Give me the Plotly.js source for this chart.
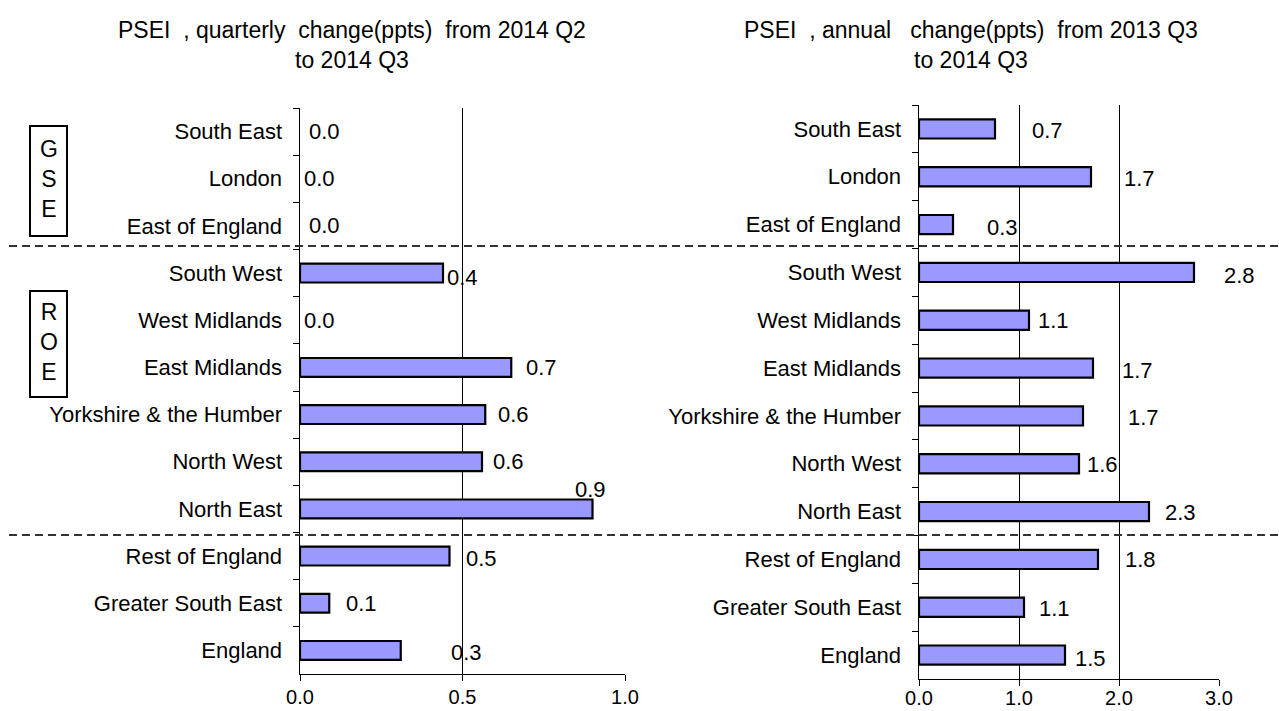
<!DOCTYPE html>
<html>
<head>
<meta charset="utf-8">
<script src="https://cdn.plot.ly/plotly-3.0.1.min.js"></script>
<style>html,body{margin:0;padding:0;background:#fff;}#chart{width:1279px;height:711px;}</style>
</head>
<body>
<div id="chart"></div>
<script>
// ---- data ----
const regions = ["South East","London","East of England","South West","West Midlands","East Midlands",
  "Yorkshire & the Humber","North West","North East","Rest of England","Greater South East","England"];
const quarterlyValues = [0.0, 0.0, 0.0, 0.44, 0.0, 0.65, 0.57, 0.56, 0.90, 0.46, 0.09, 0.31];
const quarterlyLabels = ["0.0","0.0","0.0","0.4","0.0","0.7","0.6","0.6","0.9","0.5","0.1","0.3"];
const annualValues = [0.76, 1.72, 0.34, 2.75, 1.10, 1.74, 1.64, 1.60, 2.30, 1.79, 1.05, 1.46];
const annualLabels = ["0.7","1.7","0.3","2.8","1.1","1.7","1.7","1.6","2.3","1.8","1.1","1.5"];
const quarterlyTicks = [0, 0.5, 1.0];
const quarterlyTickText = ["0.0","0.5","1.0"];
const annualTicks = [0, 1, 2, 3];
const annualTickText = ["0.0","1.0","2.0","3.0"];

// label placement tweaks (pixels), styling only
const qShiftX = [7, 2, 7, 2, 2, 13, 11, 9, -20, 14, 15, 48];
const qShiftY = [0, 0, 0, -4, 0, 0, 0, 0, 19, -2, 0, -2];
const aShiftX = [35, 31, 32, 28, 7, 27, 43, 6, 14, 25, 13, 8];
const aShiftY = [-2, -2, -3, -3, 0, -2, -2, -1, -1, 0, -1, -3];

const FONT = "Arial, 'Liberation Sans', sans-serif";
const W = 1279, H = 711;
const px = v => v / W;
const py = v => 1 - v / H;

const outline = vals => vals.map(v => (v > 0 ? 2.2 : 0));

const traces = [
  {type: "bar", orientation: "h", y: regions, x: quarterlyValues, xaxis: "x", yaxis: "y",
   marker: {color: "#9999FF", line: {color: "#000", width: outline(quarterlyValues)}}, width: 0.4},
  {type: "bar", orientation: "h", y: regions, x: annualValues, xaxis: "x2", yaxis: "y2",
   marker: {color: "#9999FF", line: {color: "#000", width: outline(annualValues)}}, width: 0.4}
];

const annotations = [];
regions.forEach((r, i) => {
  annotations.push({xref: "x", yref: "y", x: quarterlyValues[i], y: i, text: quarterlyLabels[i],
    xanchor: "left", yanchor: "middle", showarrow: false, xshift: qShiftX[i], yshift: qShiftY[i],
    font: {family: FONT, size: 22, color: "#000"}});
  annotations.push({xref: "x2", yref: "y2", x: annualValues[i], y: i, text: annualLabels[i],
    xanchor: "left", yanchor: "middle", showarrow: false, xshift: aShiftX[i], yshift: aShiftY[i],
    font: {family: FONT, size: 22, color: "#000"}});
});
// titles
annotations.push({xref: "paper", yref: "paper", x: px(352), y: py(45), showarrow: false,
  text: "PSEI&nbsp; , quarterly&nbsp; change(ppts)&nbsp; from 2014 Q2<br>to 2014 Q3",
  font: {family: FONT, size: 23, color: "#000"}, align: "center", xanchor: "center", yanchor: "middle"});
annotations.push({xref: "paper", yref: "paper", x: px(971), y: py(45), showarrow: false,
  text: "PSEI&nbsp; , annual&nbsp;&nbsp; change(ppts)&nbsp; from 2013 Q3<br>to 2014 Q3",
  font: {family: FONT, size: 23, color: "#000"}, align: "center", xanchor: "center", yanchor: "middle"});
// group boxes text
annotations.push({xref: "paper", yref: "paper", x: px(48.5), y: py(179), showarrow: false,
  text: "G<br>S<br>E", font: {family: FONT, size: 23, color: "#000"}, align: "center",
  xanchor: "center", yanchor: "middle"});
annotations.push({xref: "paper", yref: "paper", x: px(48.5), y: py(342), showarrow: false,
  text: "R<br>O<br>E", font: {family: FONT, size: 23, color: "#000"}, align: "center",
  xanchor: "center", yanchor: "middle"});

const shapes = [
  {type: "rect", xref: "paper", yref: "paper", x0: px(30), x1: px(67), y0: py(236), y1: py(126),
   line: {color: "#000", width: 2}},
  {type: "rect", xref: "paper", yref: "paper", x0: px(30), x1: px(67), y0: py(397), y1: py(291),
   line: {color: "#000", width: 2}},
  {type: "line", xref: "paper", yref: "paper", x0: px(9), x1: 1, y0: py(246), y1: py(246),
   line: {color: "#333", width: 2, dash: "8px,5px"}},
  {type: "line", xref: "paper", yref: "paper", x0: px(9), x1: 1, y0: py(535), y1: py(535),
   line: {color: "#333", width: 2, dash: "8px,5px"}}
];

const xCommon = {showgrid: true, gridcolor: "#000", gridwidth: 1, showline: true, linecolor: "#000",
  linewidth: 1, ticks: "outside", ticklen: 6, tickcolor: "#000", zeroline: false, fixedrange: true,
  tickfont: {family: FONT, size: 20, color: "#000"}, automargin: false, tickmode: "array",
  ticklabelstandoff: -1};
const yCommon = {type: "category", autorange: "reversed", showgrid: false, showline: true,
  linecolor: "#000", linewidth: 1.5, ticks: "outside", ticklen: 6, tickcolor: "#000",
  tickson: "boundaries", tickfont: {family: FONT, size: 22, color: "#000"}, automargin: false,
  fixedrange: true, ticklabelstandoff: 12};

const layout = {
  width: W, height: H, margin: {l: 0, r: 0, t: 0, b: 0}, paper_bgcolor: "#fff", plot_bgcolor: "#fff",
  showlegend: false,
  xaxis: Object.assign({}, xCommon, {domain: [px(300), px(625)], range: [0, 1.0],
    tickvals: quarterlyTicks, ticktext: quarterlyTickText, anchor: "y"}),
  yaxis: Object.assign({}, yCommon, {domain: [py(674), py(108)], anchor: "x"}),
  xaxis2: Object.assign({}, xCommon, {domain: [px(919), px(1219)], range: [0, 3.0],
    tickvals: annualTicks, ticktext: annualTickText, anchor: "y2", ticklabelstandoff: -5}),
  yaxis2: Object.assign({}, yCommon, {domain: [py(679), py(105)], anchor: "x2"}),
  annotations: annotations, shapes: shapes, font: {family: FONT, color: "#000"}
};

Plotly.newPlot("chart", traces, layout, {displayModeBar: false, staticPlot: true});
</script>
</body>
</html>
